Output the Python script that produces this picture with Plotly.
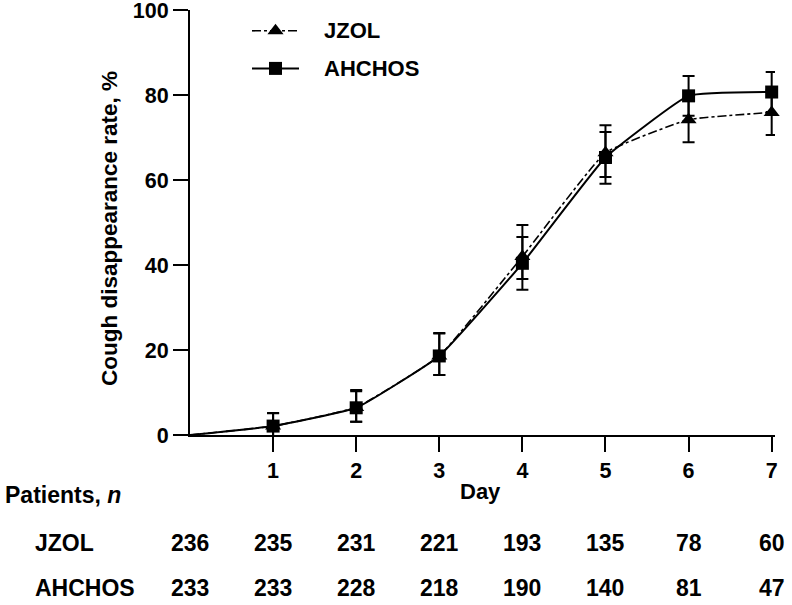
import plotly.graph_objects as go

days = [0, 1, 2, 3, 4, 5, 6, 7]
tick_days = [1, 2, 3, 4, 5, 6, 7]
series_names = ["JZOL", "AHCHOS"]

jzol_rate = [0, 2.1, 6.5, 18.6, 42.0, 66.4, 74.2, 75.9]
jzol_err_up = [None, 3.0, 3.8, 5.3, 7.4, 6.5, 5.2, 5.2]
jzol_err_down = [None, 3.0, 3.4, 4.5, 7.8, 7.3, 5.3, 5.3]

ahchos_rate = [0, 2.1, 6.4, 18.6, 40.4, 65.3, 79.8, 80.7]
ahchos_err_up = [None, 3.1, 4.2, 5.4, 6.2, 6.0, 4.7, 4.7]
ahchos_err_down = [None, 3.1, 3.3, 4.5, 3.7, 4.6, 4.7, 4.7]

jzol_n = [236, 235, 231, 221, 193, 135, 78, 60]
ahchos_n = [233, 233, 228, 218, 190, 140, 81, 47]

FONT = "Liberation Sans, Arial, sans-serif"
BOLD = dict(family=FONT, color="black", weight="bold")

# markers are shown for days 1..7 only (the curves start at the origin without a marker)
marked_points = [i for i, d in enumerate(days) if d >= 1]

fig = go.Figure()
fig.add_trace(go.Scatter(
    x=days, y=jzol_rate, name="", mode="lines+markers",
    line=dict(color="black", width=1.6, dash="dashdot", shape="spline", smoothing=0.35),
    marker=dict(symbol="triangle-up", size=14, color="black", opacity=1),
    selectedpoints=marked_points,
    selected=dict(marker=dict(opacity=1)),
    unselected=dict(marker=dict(opacity=0)),
    error_y=dict(type="data", array=jzol_err_up, arrayminus=jzol_err_down,
                 color="black", thickness=2, width=6),
    legendgroup="a", cliponaxis=False, hoverinfo="skip",
))
fig.add_trace(go.Scatter(
    x=days, y=ahchos_rate, name="", mode="lines+markers",
    line=dict(color="black", width=2, shape="spline", smoothing=0.35),
    marker=dict(symbol="square", size=13, color="black", opacity=1),
    selectedpoints=marked_points,
    selected=dict(marker=dict(opacity=1)),
    unselected=dict(marker=dict(opacity=0)),
    error_y=dict(type="data", array=ahchos_err_up, arrayminus=ahchos_err_down,
                 color="black", thickness=2, width=6),
    legendgroup="b", cliponaxis=False, hoverinfo="skip",
))

L, R, T, B = 190, 17, 10, 170
W = 792 - L - R
H = 605 - T - B

def px_x(px):
    return (px - L) / W

def px_y(px):
    return (435 - px) / H

annotations = []
def add_text(text, x, y, size, xanchor="center", xref="paper", textangle=0):
    annotations.append(dict(text=text, xref=xref, yref="paper", x=x, y=y,
                            xanchor=xanchor, yanchor="middle", showarrow=False,
                            textangle=textangle, font=dict(size=size, **BOLD)))

add_text("Cough disappearance rate, %", px_x(109), px_y(229), 22.5, textangle=-90)
add_text("Day", px_x(480), px_y(492), 22)
add_text("Patients, <i>n</i>", px_x(3), px_y(495), 23, xanchor="left")
add_text(series_names[0], px_x(33), px_y(543), 23, xanchor="left")
add_text(series_names[1], px_x(33), px_y(588), 23, xanchor="left")
for d, n in zip(days, jzol_n):
    add_text(str(n), d, px_y(543), 23, xref="x")
for d, n in zip(days, ahchos_n):
    add_text(str(n), d, px_y(588), 23, xref="x")
# legend labels
add_text(series_names[0], px_x(322), px_y(30), 22, xanchor="left")
add_text(series_names[1], px_x(322), px_y(68), 22, xanchor="left")

fig.update_layout(
    width=792, height=605,
    margin=dict(l=L, r=R, t=T, b=B, autoexpand=False),
    paper_bgcolor="white", plot_bgcolor="white",
    font=dict(size=22, **BOLD),
    showlegend=True,
    legend=dict(x=px_x(247), y=px_y(10), xanchor="left", yanchor="top",
                bgcolor="rgba(0,0,0,0)", tracegroupgap=6, itemwidth=47,
                font=dict(size=22, **BOLD), traceorder="grouped"),
    xaxis=dict(range=[0, 7.04], tickvals=tick_days, ticks="outside", ticklen=15,
               tickwidth=2, tickcolor="black", showline=True, linewidth=2,
               linecolor="black", showgrid=False, zeroline=False,
               ticklabelstandoff=0, ticklabeloverflow="allow",
               tickfont=dict(size=21.5, **BOLD)),
    yaxis=dict(range=[0, 100], tickvals=[0, 20, 40, 60, 80, 100], ticks="outside",
               ticklen=15, tickwidth=2, tickcolor="black", showline=True, linewidth=2,
               linecolor="black", showgrid=False, zeroline=False,
               ticklabelstandoff=0, ticklabeloverflow="allow",
               tickfont=dict(size=21.5, **BOLD)),
    annotations=annotations,
)

fig.write_html("out.html", config={"displayModeBar": False},
               post_script="document.body.style.margin='0';")
